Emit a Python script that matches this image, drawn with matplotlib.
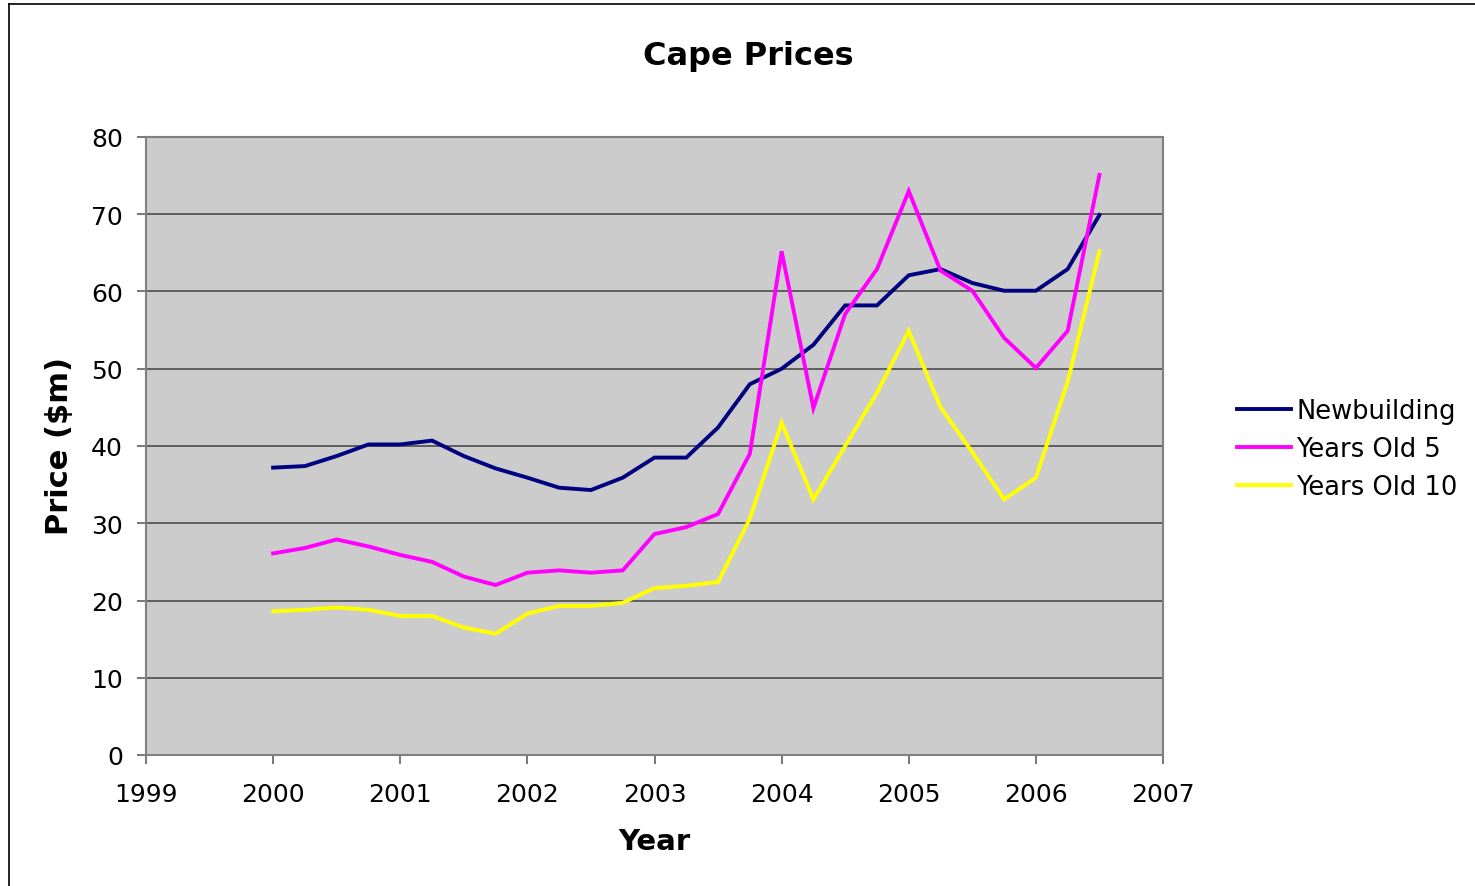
import numpy as np
import matplotlib
matplotlib.use('Agg')
import matplotlib.pyplot as plt
from matplotlib.lines import Line2D

# kwartalne punkty od 2000 do 2006.5
years = [2000 + 0.25 * i for i in range(27)]

newbuilding = [37.2, 37.4, 38.7, 40.2, 40.2, 40.7, 38.7, 37.1, 35.9, 34.6, 34.3, 35.9, 38.5, 38.5,
               42.4, 48.0, 50.0, 53.1, 58.2, 58.2, 62.1, 62.9, 61.1, 60.1, 60.1, 62.9, 69.9]
years_old_5 = [26.1, 26.8, 27.9, 27.0, 25.9, 25.0, 23.1, 22.0, 23.6, 23.9, 23.6, 23.9, 28.6, 29.5,
               31.2, 39.0, 65.2, 44.9, 57.1, 62.9, 73.0, 62.7, 60.1, 54.0, 50.1, 54.9, 75.1]
years_old_10 = [18.6, 18.8, 19.1, 18.8, 18.0, 18.0, 16.5, 15.7, 18.3, 19.3, 19.3, 19.7, 21.6, 21.9,
                22.4, 30.6, 43.0, 33.1, 40.0, 46.9, 54.9, 45.0, 39.2, 33.1, 35.9, 48.3, 65.2]

series_names = ['Newbuilding', 'Years Old 5', 'Years Old 10']
series_colors = ['#000080', '#FF00FF', '#FFFF00']

x_ticks = list(range(1999, 2008))
y_ticks = list(range(0, 81, 10))

W, H = 1475, 887
fig = plt.figure(figsize=(W / 100, H / 100), dpi=100)
fig.patch.set_facecolor('white')

ax = fig.add_axes([146 / W, 1 - 756 / H, 1017 / W, 618 / H])
ax.set_facecolor('#CCCCCC')

for vals, name, col in zip([newbuilding, years_old_5, years_old_10], series_names, series_colors):
    ax.plot(years, vals, color=col, linewidth=2.8, label=name, solid_joinstyle='miter')

ax.set_xlim(1999, 2007)
ax.set_ylim(0, 80)
ax.set_xticks(x_ticks)
ax.set_yticks(y_ticks)
ax.tick_params(axis='both', direction='out', length=6.5, width=1.2, color='#606060', labelsize=18)
ax.tick_params(axis='x', pad=13)
ax.tick_params(axis='y', pad=10)
ax.yaxis.grid(True, color='#555555', linewidth=1.3)
ax.set_axisbelow(True)
for s in ax.spines.values():
    s.set_color('#808080')
    s.set_linewidth(1.5)

fig.text(748 / W, 1 - 56 / H, 'Cape Prices', ha='center', va='center', fontsize=23, fontweight='bold')
fig.text(60 / W, 1 - 446 / H, 'Price ($m)', ha='center', va='center', rotation=90,
         fontsize=22, fontweight='bold')
fig.text(654 / W, 1 - 842 / H, 'Year', ha='center', va='center', fontsize=21, fontweight='bold')

leg = ax.legend(loc='center left', bbox_to_anchor=(1227 / W, 1 - 450 / H),
                bbox_transform=fig.transFigure, frameon=False, fontsize=18.5,
                handlelength=2.1, handletextpad=0.2, labelspacing=0.45, borderaxespad=0)

# ramka wokol calego wykresu
fig.add_artist(Line2D([9 / W, 1.0], [1 - 5 / H, 1 - 5 / H], color='black', linewidth=1.2))
fig.add_artist(Line2D([9 / W, 9 / W], [0, 1 - 5 / H], color='black', linewidth=1.2))

fig.savefig('out.png', dpi=100)
